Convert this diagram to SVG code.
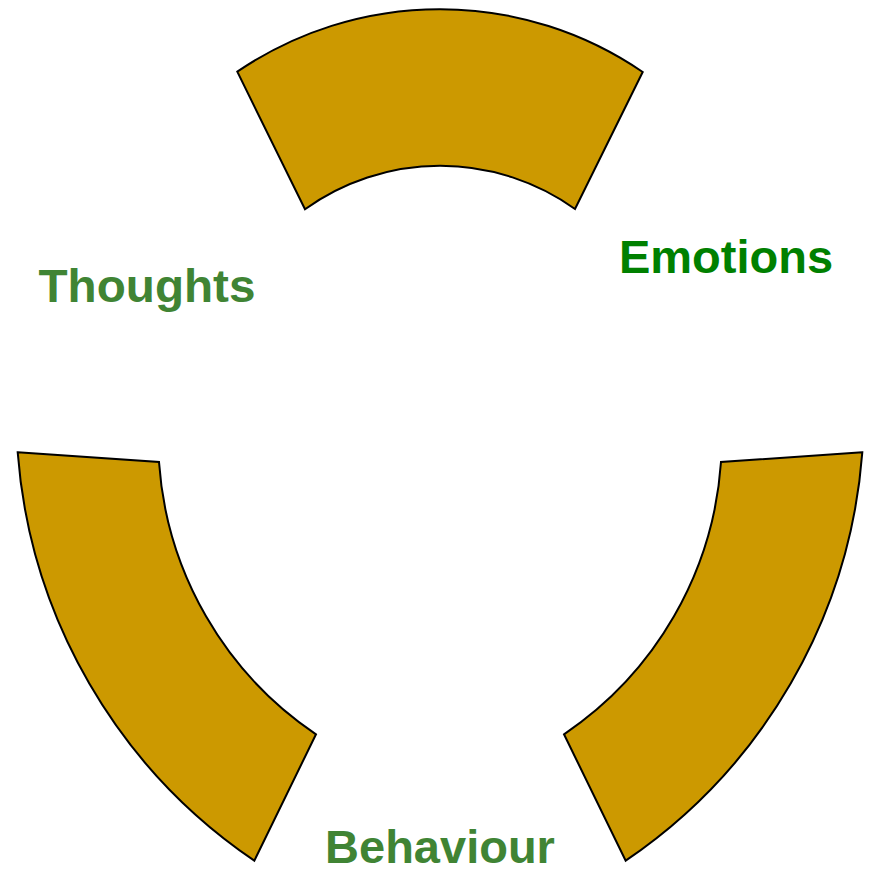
<svg xmlns="http://www.w3.org/2000/svg" width="870" height="869" viewBox="0 0 870 869">
<style>
.arc{fill:#cc9900;stroke:#000;stroke-width:2;stroke-linejoin:miter}
.lbl{font-family:"Liberation Sans",Arial,sans-serif;font-weight:bold;font-size:47px;text-anchor:middle}
.g1{fill:#408434}
.g2{fill:#008000}
</style>
<rect width="870" height="869" fill="#fff"/>
<g id="arc-top">
<path class="arc" d="M237.3,71.7 A359,359 0 0 1 642.7,72 L575,209 A232,232 0 0 0 305,209.3 Z"/>
</g>
<g id="arc-left">
<path class="arc" d="M17.7,452.3 L159,462 A358,358 0 0 0 316,734.3 L254.3,860.7 A543,543 0 0 1 17.7,452.3 Z"/>
</g>
<g id="arc-right">
<path class="arc" d="M862.3,452.3 L721,462 A358,358 0 0 1 564,734.3 L625.7,860.7 A543,543 0 0 0 862.3,452.3 Z"/>
</g>
<g id="label-thoughts">
<text class="lbl g1" x="147" y="301.7" textLength="217" lengthAdjust="spacingAndGlyphs">Thoughts</text>
</g>
<g id="label-emotions">
<text class="lbl g2" x="726" y="273.3">Emotions</text>
</g>
<g id="label-behaviour">
<text class="lbl g1" x="440" y="863">Behaviour</text>
</g>
</svg>
